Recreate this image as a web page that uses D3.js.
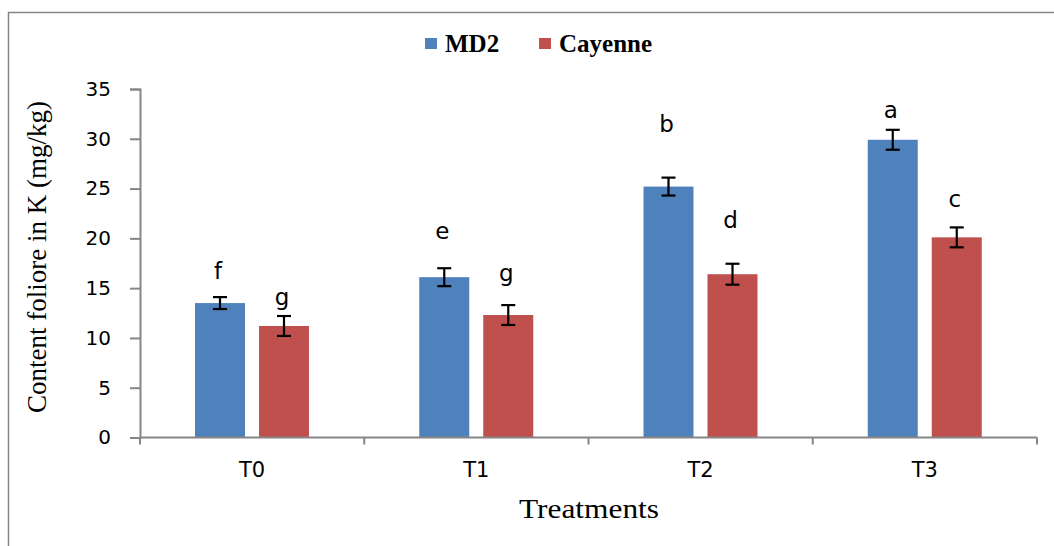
<!DOCTYPE html>
<html>
<head>
<meta charset="utf-8">
<script src="https://cdn.jsdelivr.net/npm/d3@7"></script>
<style>
  body { margin: 0; background: #fff; }
  svg { display: block; }
</style>
</head>
<body>
<div id="chart"></div>
<script>
// treatments along x, two varieties per treatment
var treatments = ["T0", "T1", "T2", "T3"];
var varieties = ["MD2", "Cayenne"];
var md2Values = [13.5, 16.1, 25.2, 29.9];
var cayenneValues = [11.2, 12.3, 16.4, 20.1];
var md2Errors = [0.6, 0.9, 0.9, 1.0];
var cayenneErrors = [1.0, 1.0, 1.05, 1.0];
// significance letters and the height (in mg/kg) where they sit
var md2Letters = ["f", "e", "b", "a"];
var cayenneLetters = ["g", "g", "d", "c"];
var md2LetterAt = [15.95, 19.9, 30.7, 32.1];
var cayenneLetterAt = [13.3, 15.7, 21.0, 23.1];
var yTicks = [0, 5, 10, 15, 20, 25, 30, 35];

var colors = { "MD2": "#4F81BD", "Cayenne": "#C0504D" };
var axisColor = "#868686";

var width = 1054, height = 546;
var svg = d3.select("#chart").append("svg")
    .attr("width", width)
    .attr("height", height);

// outer chart frame (right and bottom run off the picture)
svg.append("rect")
    .attr("x", 8.5).attr("y", 12.5)
    .attr("width", 1100).attr("height", 600)
    .attr("fill", "none")
    .attr("stroke", axisColor)
    .attr("stroke-width", 1.5);

var rows = [];
treatments.forEach(function(t, i) {
    rows.push({ t: t, s: "MD2", v: md2Values[i], e: md2Errors[i], l: md2Letters[i], ly: md2LetterAt[i] });
    rows.push({ t: t, s: "Cayenne", v: cayenneValues[i], e: cayenneErrors[i], l: cayenneLetters[i], ly: cayenneLetterAt[i] });
});

var x0 = d3.scaleBand().domain(treatments).range([140, 1037]);
var x1 = d3.scaleBand().domain(varieties)
    .range([55, 169])
    .paddingInner(0.21875);
var y = d3.scaleLinear().domain([0, 35]).range([437.5, 89]);

// y axis
var yAxis = svg.append("g")
    .attr("transform", "translate(140,0)")
    .call(d3.axisLeft(y).tickValues(yTicks).tickSize(10).tickPadding(19));
yAxis.select(".domain").attr("stroke", axisColor).attr("stroke-width", 2);
yAxis.selectAll(".tick line").attr("stroke", axisColor).attr("stroke-width", 2);
yAxis.selectAll(".tick text")
    .attr("fill", "#000")
    .style("font-family", "'DejaVu Sans', sans-serif")
    .style("font-size", "20px");

// bars
svg.selectAll("rect.bar")
    .data(rows)
    .enter()
    .append("rect")
    .attr("class", "bar")
    .attr("x", function(d) { return x0(d.t) + x1(d.s); })
    .attr("y", function(d) { return y(d.v); })
    .attr("width", x1.bandwidth())
    .attr("height", function(d) { return y(0) - y(d.v); })
    .attr("fill", function(d) { return colors[d.s]; });

// x axis: line with ticks on the category boundaries
svg.append("line")
    .attr("x1", x0.range()[0]).attr("x2", x0.range()[1])
    .attr("y1", y(0)).attr("y2", y(0))
    .attr("stroke", axisColor).attr("stroke-width", 2);
var bounds = treatments.map(function(t) { return x0(t); }).concat([x0.range()[1]]);
svg.selectAll("line.xtick")
    .data(bounds)
    .enter()
    .append("line")
    .attr("class", "xtick")
    .attr("x1", function(d) { return d; }).attr("x2", function(d) { return d; })
    .attr("y1", y(0)).attr("y2", y(0) + 7)
    .attr("stroke", axisColor).attr("stroke-width", 2);
svg.selectAll("text.xlab")
    .data(treatments)
    .enter()
    .append("text")
    .attr("class", "xlab")
    .attr("x", function(d) { return x0(d) + x0.bandwidth() / 2; })
    .attr("y", 477)
    .attr("text-anchor", "middle")
    .style("font-family", "'DejaVu Sans', sans-serif")
    .style("font-size", "21px")
    .text(function(d) { return d; });

// error bars
var errs = svg.selectAll("g.err")
    .data(rows)
    .enter()
    .append("g")
    .attr("class", "err")
    .attr("transform", function(d) {
        return "translate(" + (x0(d.t) + x1(d.s) + x1.bandwidth() / 2) + ",0)";
    })
    .attr("stroke", "#000")
    .attr("stroke-width", 2.2);
errs.append("line")
    .attr("y1", function(d) { return y(d.v + d.e); })
    .attr("y2", function(d) { return y(d.v - d.e); });
errs.append("line")
    .attr("x1", -7).attr("x2", 7)
    .attr("y1", function(d) { return y(d.v + d.e); })
    .attr("y2", function(d) { return y(d.v + d.e); });
errs.append("line")
    .attr("x1", -7).attr("x2", 7)
    .attr("y1", function(d) { return y(d.v - d.e); })
    .attr("y2", function(d) { return y(d.v - d.e); });

// letters
svg.selectAll("text.letter")
    .data(rows)
    .enter()
    .append("text")
    .attr("class", "letter")
    .attr("x", function(d) { return x0(d.t) + x1(d.s) + x1.bandwidth() / 2 - 2; })
    .attr("y", function(d) { return y(d.ly); })
    .attr("text-anchor", "middle")
    .style("font-family", "'DejaVu Sans', sans-serif")
    .style("font-size", "23px")
    .text(function(d) { return d.l; });

// legend
var legendX = [425, 539];
var legend = svg.selectAll("g.legend")
    .data(varieties)
    .enter()
    .append("g")
    .attr("class", "legend")
    .attr("transform", function(d, i) { return "translate(" + legendX[i] + ",0)"; });
legend.append("rect")
    .attr("x", 0).attr("y", 38)
    .attr("width", 12).attr("height", 11)
    .attr("fill", function(d) { return colors[d]; });
legend.append("text")
    .attr("x", 20).attr("y", 52)
    .style("font-family", "'Liberation Serif', 'Times New Roman', serif")
    .style("font-weight", "bold")
    .style("font-size", "25px")
    .text(function(d) { return d; });

// axis titles
svg.append("text")
    .attr("transform", "translate(46,257) rotate(-90)")
    .attr("text-anchor", "middle")
    .style("font-family", "'Liberation Serif', 'Times New Roman', serif")
    .style("font-size", "27px")
    .text("Content foliore in K (mg/kg)");
svg.append("text")
    .attr("x", 589).attr("y", 518)
    .attr("text-anchor", "middle")
    .attr("textLength", 140)
    .attr("lengthAdjust", "spacingAndGlyphs")
    .style("font-family", "'Liberation Serif', 'Times New Roman', serif")
    .style("font-size", "27px")
    .text("Treatments");
</script>
</body>
</html>
